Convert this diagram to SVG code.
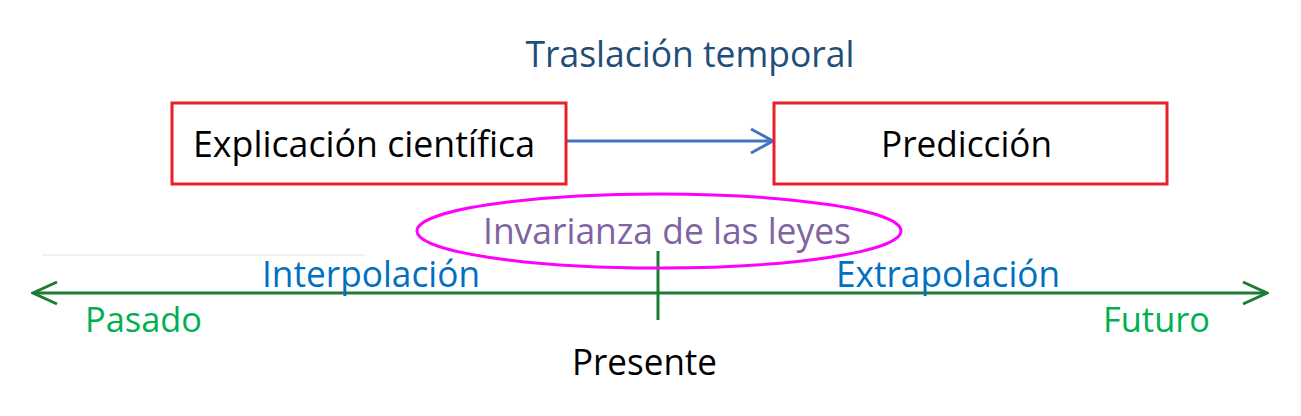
<svg xmlns="http://www.w3.org/2000/svg" width="1301" height="416" viewBox="0 0 1301 416">
<style>
text{font-family:"Open Sans","Noto Sans","Liberation Sans",sans-serif;font-size:37px}
.small{font-size:34px}
.box{fill:#fff;stroke:#e8202a;stroke-width:3}
.axis{stroke:#1e7b34;stroke-width:3;fill:none}
</style>
<defs>
<marker id="blueHead" markerWidth="26" markerHeight="28" refX="24" refY="14" orient="auto" markerUnits="userSpaceOnUse">
<path d="M2,2 L24,14 L2,26" fill="none" stroke="#4472c4" stroke-width="3"/>
</marker>
<marker id="greenHead" markerWidth="28" markerHeight="28" refX="26" refY="14" orient="auto-start-reverse" markerUnits="userSpaceOnUse">
<path d="M2,3 L26,14 L2,25" fill="none" stroke="#1e7b34" stroke-width="3"/>
</marker>
</defs>
<rect width="1301" height="416" fill="#fff"/>
<text x="690" y="67" text-anchor="middle" fill="#1f4e79" textLength="329" lengthAdjust="spacingAndGlyphs">Traslación temporal</text>
<line x1="42" y1="255" x2="365" y2="255" stroke="#eeeeee" stroke-width="1.5"/>
<g id="connectors">
<line x1="567" y1="141" x2="773" y2="141" stroke="#4472c4" stroke-width="3" marker-end="url(#blueHead)"/>
<line class="axis" x1="33" y1="293" x2="1267" y2="293" marker-start="url(#greenHead)" marker-end="url(#greenHead)"/>
<line class="axis" x1="658" y1="251" x2="658" y2="320"/>
</g>
<g id="explicacion">
<rect class="box" x="172" y="103" width="394" height="81"/>
<text x="193" y="157" fill="#000" textLength="342" lengthAdjust="spacingAndGlyphs">Explicación científica</text>
</g>
<g id="prediccion">
<rect class="box" x="774" y="103" width="393" height="81"/>
<text x="881" y="157" fill="#000" textLength="171" lengthAdjust="spacingAndGlyphs">Predicción</text>
</g>
<g id="invarianza">
<ellipse cx="659" cy="231" rx="242" ry="37" fill="none" stroke="#ff00ff" stroke-width="3"/>
<text x="483" y="244" fill="#8064a2" textLength="368" lengthAdjust="spacingAndGlyphs">Invarianza de las leyes</text>
</g>
<g id="labels">
<text x="262" y="287" fill="#0070c0" textLength="218" lengthAdjust="spacingAndGlyphs">Interpolación</text>
<text x="836" y="287" fill="#0070c0" textLength="224" lengthAdjust="spacingAndGlyphs">Extrapolación</text>
<text class="small" x="85" y="332" fill="#00b050" textLength="117" lengthAdjust="spacingAndGlyphs">Pasado</text>
<text class="small" x="1103" y="332" fill="#00b050" textLength="107" lengthAdjust="spacingAndGlyphs">Futuro</text>
<text x="572" y="375" fill="#000" textLength="145" lengthAdjust="spacingAndGlyphs">Presente</text>
</g>
</svg>
